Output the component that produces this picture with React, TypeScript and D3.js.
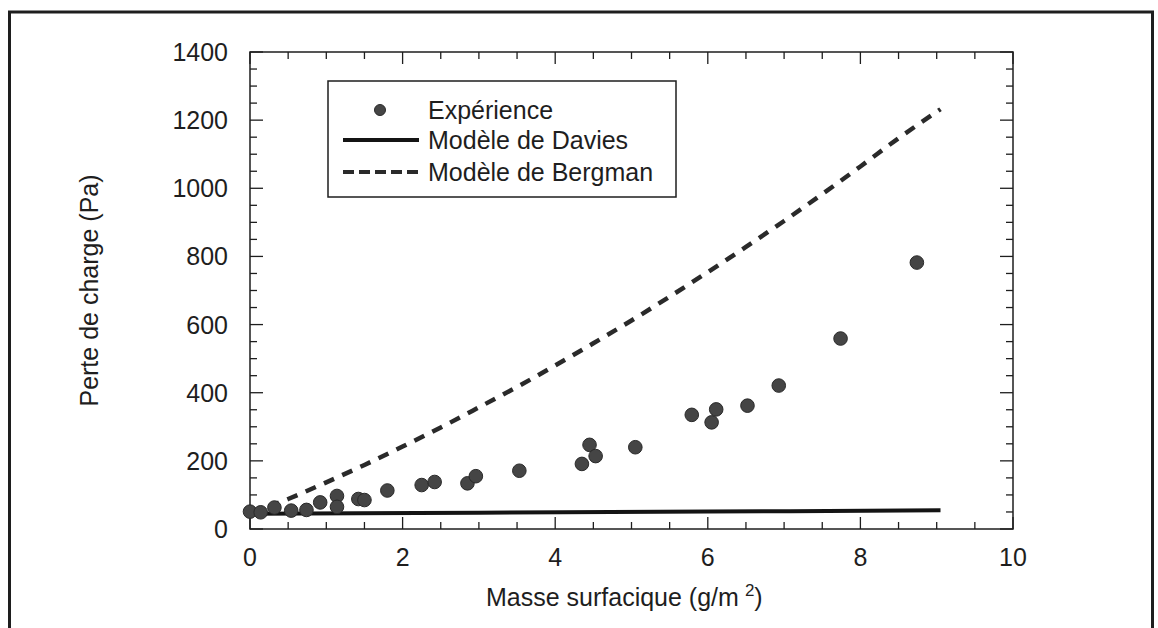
import React from "react";
import * as d3 from "d3";

// Experimental points
const expX = [0, 0.14, 0.32, 0.54, 0.74, 0.92, 1.14, 1.14, 1.42, 1.5, 1.8, 2.25, 2.42, 2.85, 2.96, 3.53, 4.35, 4.45, 4.53, 5.05, 5.79, 6.05, 6.11, 6.52, 6.93, 7.74, 8.74];
const expY = [51, 49, 63, 54, 56, 78, 97, 65, 88, 85, 113, 129, 138, 134, 155, 171, 191, 247, 214, 240, 335, 313, 351, 362, 421, 559, 782];

// Davies model
const daviesX = [0, 3, 6, 9.05];
const daviesY = [45, 48, 51, 55];

// Bergman model
const bergX = [0, 0.5, 1, 1.5, 2, 2.5, 3, 3.5, 4, 4.5, 5, 5.5, 6, 6.5, 7, 7.5, 8, 8.5, 9.05];
const bergY = [45, 88, 137, 188, 242, 298, 357, 417, 480, 545, 612, 682, 754, 828, 904, 983, 1064, 1147, 1232];

const xTicks = [0, 2, 4, 6, 8, 10];
const yTicks = [0, 200, 400, 600, 800, 1000, 1200, 1400];
const legendLabels = ["Expérience", "Modèle de Davies", "Modèle de Bergman"];

const FONT = "'Liberation Sans', Arial, Helvetica, sans-serif";

export default function App() {
  const left = 250, right = 1013, top = 52, bottom = 529;
  const x = d3.scaleLinear().domain([0, 10]).range([left, right]);
  const y = d3.scaleLinear().domain([0, 1400]).range([bottom, top]);

  const xMinor = d3.range(0, 10.001, 0.5);
  const yMinor = d3.range(0, 1400.001, 50);

  const line = d3
    .line<[number, number]>()
    .x((d) => x(d[0]))
    .y((d) => y(d[1]))
    .curve(d3.curveMonotoneX);

  const davies = line(daviesX.map((v, i) => [v, daviesY[i]]) as [number, number][]) || "";
  const berg = line(bergX.map((v, i) => [v, bergY[i]]) as [number, number][]) || "";

  const ink = "#1e1e1e";
  const lg = { x0: 328, y0: 81, w: 348, h: 116 };
  const fs = 25;

  return (
    <svg
      width={1158}
      height={628}
      style={{ position: "absolute", left: 0, top: 0, background: "#fff" }}
      fontFamily={FONT}
    >
      {/* outer frame */}
      <rect x={9.5} y={12} width={1143} height={640} fill="none" stroke={ink} strokeWidth={3} />

      {/* plot frame */}
      <rect x={left} y={top} width={right - left} height={bottom - top} fill="none" stroke={ink} strokeWidth={1.5} />

      {/* x ticks (bottom & top, inward) */}
      {xMinor.map((v) => {
        const major = Math.abs(v % 2) < 1e-9;
        const len = major ? 12 : 7;
        return (
          <g key={"xt" + v}>
            <line x1={x(v)} x2={x(v)} y1={bottom} y2={bottom - len} stroke={ink} strokeWidth={1.3} />
            <line x1={x(v)} x2={x(v)} y1={top} y2={top + len} stroke={ink} strokeWidth={1.3} />
          </g>
        );
      })}
      {yMinor.map((v) => {
        const major = Math.abs(v % 200) < 1e-9;
        const len = major ? 13 : 7;
        return (
          <g key={"yt" + v}>
            <line x1={left} x2={left + len} y1={y(v)} y2={y(v)} stroke={ink} strokeWidth={1.3} />
            <line x1={right} x2={right - len} y1={y(v)} y2={y(v)} stroke={ink} strokeWidth={1.3} />
          </g>
        );
      })}

      {/* tick labels */}
      {xTicks.map((v) => (
        <text key={"xl" + v} x={x(v)} y={566} textAnchor="middle" fontSize={fs} fill={ink}>
          {v}
        </text>
      ))}
      {yTicks.map((v) => (
        <text key={"yl" + v} x={228} y={y(v) + 9} textAnchor="end" fontSize={fs} fill={ink}>
          {v}
        </text>
      ))}

      {/* axis titles */}
      <text x={486} y={606} fontSize={fs} fill={ink}>
        Masse surfacique (g/m
        <tspan dx={6} dy={-10} fontSize={17}>2</tspan>
        <tspan dy={10} fontSize={fs}>)</tspan>
      </text>
      <text
        transform={`translate(98, ${(top + bottom) / 2}) rotate(-90)`}
        textAnchor="middle"
        fontSize={fs}
        fill={ink}
      >
        Perte de charge (Pa)
      </text>

      {/* models */}
      <path d={berg} fill="none" stroke="#2a2a2a" strokeWidth={4.5} strokeDasharray="11,9" />
      <path d={davies} fill="none" stroke="#141414" strokeWidth={4} />

      {/* experiments */}
      {expX.map((v, i) => (
        <circle key={"p" + i} cx={x(v)} cy={y(expY[i])} r={6.8} fill="#454545" stroke="#2a2a2a" strokeWidth={1} />
      ))}

      {/* legend */}
      <rect x={lg.x0} y={lg.y0} width={lg.w} height={lg.h} fill="#fff" stroke={ink} strokeWidth={1.5} />
      <circle cx={380} cy={110} r={5.5} fill="#454545" stroke="#2a2a2a" strokeWidth={1} />
      <line x1={343} x2={419} y1={140} y2={140} stroke="#141414" strokeWidth={4} />
      <line x1={343} x2={419} y1={172} y2={172} stroke="#2a2a2a" strokeWidth={4} strokeDasharray="11,5" />
      {legendLabels.map((t, i) => (
        <text key={t} x={428} y={[119, 149, 181][i]} fontSize={fs} fill={ink}>
          {t}
        </text>
      ))}
    </svg>
  );
}
